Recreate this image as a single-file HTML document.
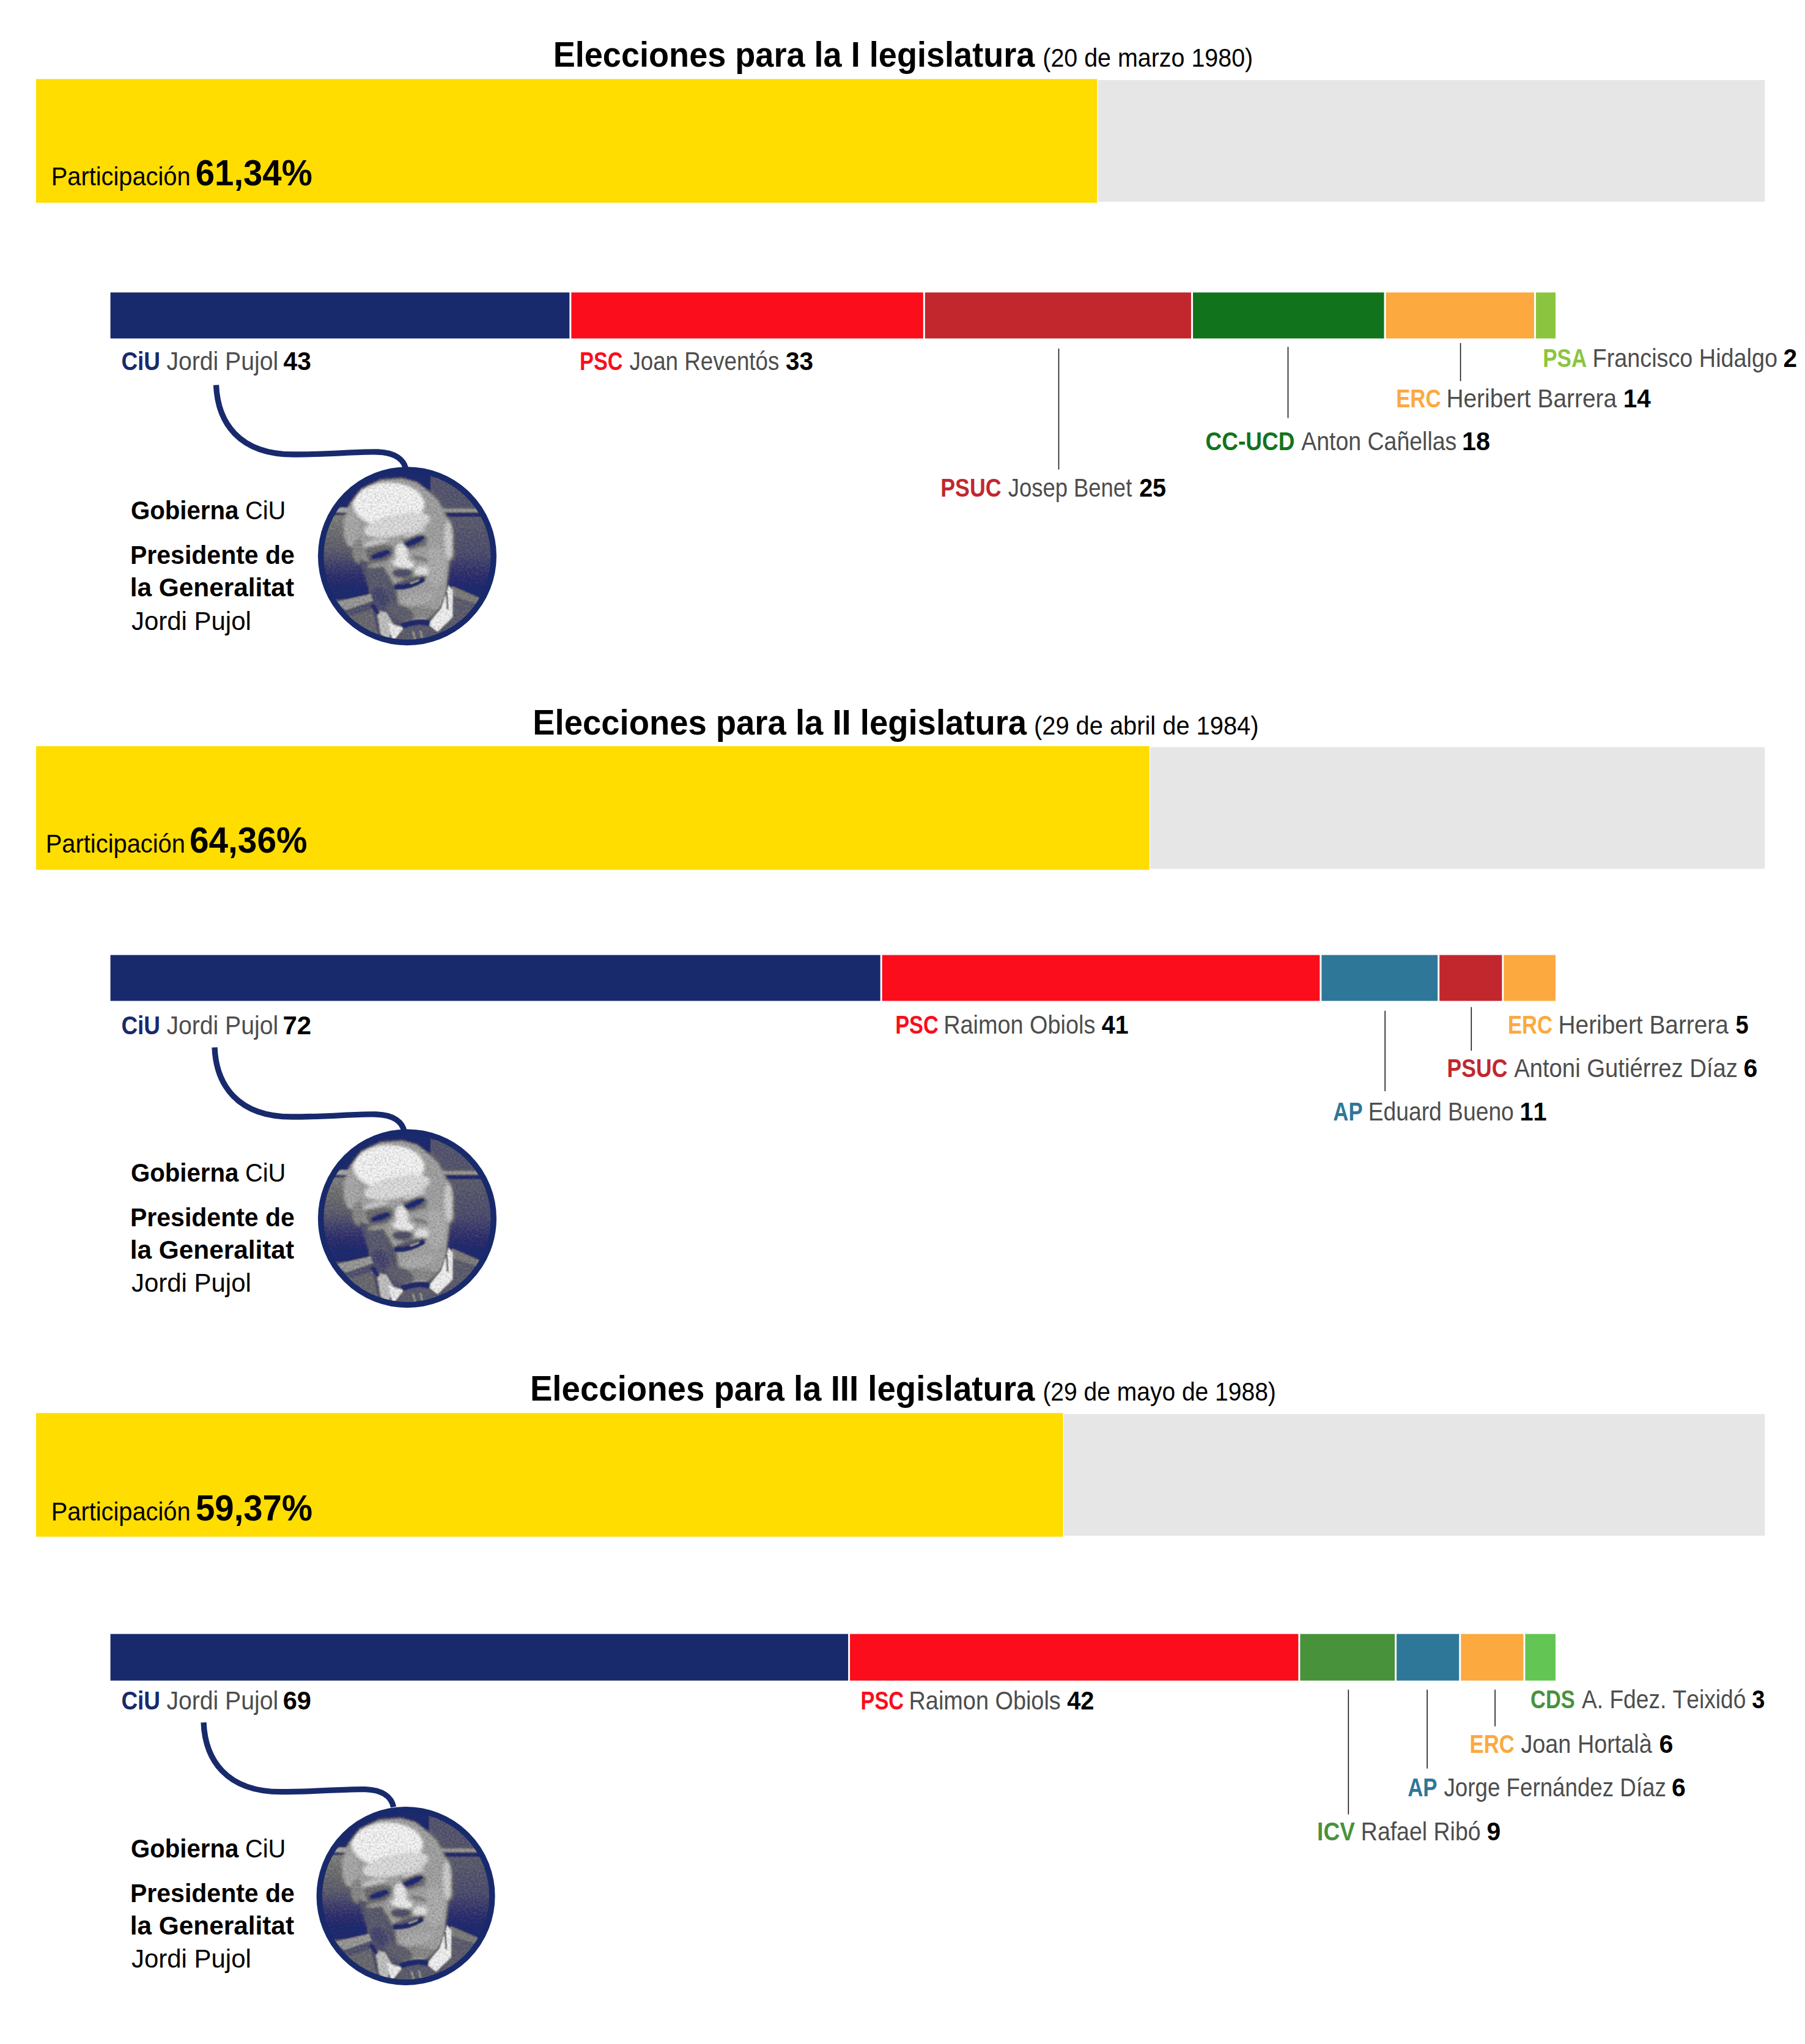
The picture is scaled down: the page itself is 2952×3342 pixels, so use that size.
<!DOCTYPE html>
<html lang="es"><head><meta charset="utf-8"><title>Elecciones al Parlament de Catalunya</title>
<style>
html,body{margin:0;padding:0;background:#fff}
svg{display:block}
text{font-family:"Liberation Sans",sans-serif;font-kerning:none}
</style></head><body>
<svg width="2952" height="3342" viewBox="0 0 2952 3342">
<defs>
<clipPath id="pc"><circle cx="0" cy="0" r="141"/></clipPath>
<filter id="b1" x="-10%" y="-10%" width="120%" height="120%"><feGaussianBlur stdDeviation="13"/></filter>
<filter id="b2" x="-10%" y="-10%" width="120%" height="120%"><feGaussianBlur stdDeviation="6"/></filter>
<filter id="gn" x="0" y="0" width="100%" height="100%"><feTurbulence type="fractalNoise" baseFrequency="0.05" numOctaves="2" seed="7" result="n"/><feColorMatrix in="n" type="matrix" values="0 0 0 0 0  0 0 0 0 0  0 0 0 0 0  1.6 0 0 0 -0.62"/></filter>
<filter id="gw" x="0" y="0" width="100%" height="100%"><feTurbulence type="fractalNoise" baseFrequency="0.055" numOctaves="2" seed="23" result="n"/><feColorMatrix in="n" type="matrix" values="0 0 0 0 1  0 0 0 0 1  0 0 0 0 1  0 1.6 0 0 -0.66"/></filter>
<filter id="duo" x="0" y="0" width="100%" height="100%" color-interpolation-filters="sRGB"><feComponentTransfer in="SourceGraphic" result="g"><feFuncR type="gamma" exponent="1.18"/><feFuncG type="gamma" exponent="1.18"/><feFuncB type="gamma" exponent="1.18"/></feComponentTransfer><feFlood flood-color="#1a2a6c" result="f"/><feBlend in="g" in2="f" mode="lighten"/></filter>
<linearGradient id="gL" x1="0" y1="0" x2="0" y2="1"><stop offset="0" stop-color="#909090"/><stop offset="0.45" stop-color="#6a6a6a"/><stop offset="0.7" stop-color="#3e3e3e"/><stop offset="0.9" stop-color="#202020"/></linearGradient>
<linearGradient id="gR" x1="0" y1="0" x2="0" y2="1"><stop offset="0" stop-color="#6c6c6c"/><stop offset="0.45" stop-color="#5a5a5a"/><stop offset="0.7" stop-color="#3a3a3a"/><stop offset="0.88" stop-color="#202020"/></linearGradient>
<g id="ph">
<g clip-path="url(#pc)">
<g filter="url(#duo)">
<g transform="scale(0.166204) translate(-902,-898)">
<rect x="0" y="0" width="1805" height="1805" fill="#5f5f5f"/>
<g filter="url(#b2)">
<rect x="0" y="0" width="1130" height="445" fill="#141414"/>
<rect x="1130" y="90" width="700" height="345" fill="#646464"/>
<rect x="0" y="470" width="520" height="850" fill="url(#gL)"/>
<rect x="100" y="418" width="230" height="50" fill="#b0b0b0"/>
<rect x="100" y="472" width="230" height="22" fill="#3a3a3a"/>
<rect x="1250" y="428" width="500" height="40" fill="#a0a0a0"/>
<rect x="1270" y="470" width="500" height="42" fill="#2b2b2b"/>
<rect x="1270" y="512" width="560" height="810" fill="url(#gR)"/>
<polygon points="1340,1190 1640,1320 1560,1650 1250,1805 1300,1400" fill="#6a6a6a"/>
<polygon points="1340,1190 1640,1320 1620,1380 1350,1290" fill="#8a8a8a"/>
<polygon points="190,1350 540,1270 620,1400 660,1805 330,1700" fill="#5f5f5f"/>
<polygon points="190,1350 545,1268 570,1335 300,1430" fill="#a5a5a5"/>
<polygon points="300,1500 560,1420 640,1805 420,1700" fill="#777"/>
</g>
<g filter="url(#b1)">
<path d="M270,560 L330,380 L450,230 L640,140 L850,125 L1000,165 L1110,250 L1210,350 L1280,480 L1320,560 L1345,700 L1365,900 L1320,960 L1305,1100 L1290,1260 L1230,1400 L1100,1520 L950,1570 L800,1510 L680,1400 L580,1250 L500,1100 L440,950 L370,800 L290,700 Z" fill="#adadad"/>
<ellipse cx="720" cy="390" rx="350" ry="215" fill="#f7f7f7"/>
<ellipse cx="800" cy="590" rx="330" ry="105" transform="rotate(-12 800 590)" fill="#e2e2e2"/>
<ellipse cx="350" cy="640" rx="75" ry="170" fill="#b4b4b4"/>
<ellipse cx="420" cy="850" rx="60" ry="120" fill="#969696"/>
<path d="M430,930 L560,960 L720,1080 L800,1250 L830,1520 L680,1410 L580,1260 L490,1100 Z" fill="#626262"/>
<ellipse cx="600" cy="1110" rx="110" ry="180" transform="rotate(-15 600 1110)" fill="#686868"/><ellipse cx="640" cy="1300" rx="70" ry="100" transform="rotate(-25 640 1300)" fill="#525252"/><ellipse cx="610" cy="985" rx="100" ry="24" transform="rotate(-8 610 985)" fill="#a8a8a8"/>
<ellipse cx="1180" cy="1000" rx="110" ry="200" fill="#b8b8b8"/>
<ellipse cx="1310" cy="740" rx="45" ry="190" fill="#d4d4d4"/>
<polygon points="490,820 600,775 760,795 765,880 700,950 570,975 495,915" fill="#7c7c7c"/>
<polygon points="855,735 1000,675 1100,710 1095,790 960,835 865,815" fill="#7c7c7c"/>
<ellipse cx="590" cy="765" rx="130" ry="28" transform="rotate(-14 590 765)" fill="#d0d0d0"/>
<ellipse cx="980" cy="665" rx="120" ry="24" transform="rotate(-24 980 665)" fill="#d5d5d5"/>
<ellipse cx="640" cy="885" rx="105" ry="34" transform="rotate(-17 640 885)" fill="#262626"/><ellipse cx="968" cy="755" rx="115" ry="34" transform="rotate(-26 968 755)" fill="#262626"/><ellipse cx="850" cy="880" rx="62" ry="110" transform="rotate(-8 850 880)" fill="#eee"/>
<ellipse cx="865" cy="970" rx="110" ry="48" transform="rotate(8 865 970)" fill="#efefef"/>
<ellipse cx="855" cy="1065" rx="100" ry="48" fill="#5b5b5b"/>
<path d="M965,912 Q1050,915 1105,945" fill="none" stroke="#777" stroke-width="26"/>
<ellipse cx="1045" cy="1045" rx="70" ry="52" fill="#e6e6e6"/>
<ellipse cx="930" cy="1150" rx="170" ry="40" transform="rotate(-17 930 1150)" fill="#646464"/>
<ellipse cx="1000" cy="1320" rx="175" ry="55" transform="rotate(-14 1000 1320)" fill="#b6b6b6"/>
<ellipse cx="1000" cy="1450" rx="180" ry="60" fill="#969696"/>
<ellipse cx="840" cy="1450" rx="140" ry="70" transform="rotate(25 840 1450)" fill="#6d6d6d"/>
</g>
<g filter="url(#b2)">
<path d="M565,905 Q640,890 715,852" fill="none" stroke="#101010" stroke-width="16"/>
<path d="M885,780 Q960,762 1060,712" fill="none" stroke="#101010" stroke-width="16"/>
<path d="M780,1200 Q905,1220 1065,1125" fill="none" stroke="#1c1c1c" stroke-width="42"/>
<path d="M930,1165 Q990,1150 1020,1130" fill="none" stroke="#c9c9c9" stroke-width="12"/>
<polygon points="1310,1180 1352,1235 1350,1500 1200,1645 1105,1565 1235,1410" fill="#f4f4f4"/>
<polygon points="600,1430 700,1450 770,1570 720,1720 640,1670" fill="#c9c9c9"/>
<polygon points="715,1555 870,1600 760,1745" fill="#f0f0f0"/>
<polygon points="870,1600 1105,1565 1190,1640 1000,1770 790,1735" fill="#6a6a6a"/>
<path d="M850,1590 Q980,1525 1125,1560" fill="none" stroke="#1c1c1c" stroke-width="50"/>
<path d="M555,1375 L620,1465" fill="none" stroke="#2a2a2a" stroke-width="36"/>
<path d="M1290,1250 L1300,1420" fill="none" stroke="#555" stroke-width="16"/>
<path d="M960,1640 L990,1760 M1030,1630 L1060,1740" fill="none" stroke="#b4b4b4" stroke-width="14"/>
</g>
<rect x="0" y="0" width="1805" height="1805" filter="url(#gn)" opacity="0.22"/>
<rect x="0" y="0" width="1805" height="1805" filter="url(#gw)" opacity="0.22"/>
</g>
</g>
</g>
<circle cx="0" cy="0" r="141.3" fill="none" stroke="#182a6c" stroke-width="9.4"/>
</g>

</defs>
<rect width="2952" height="3342" fill="#fff"/>
<text x="904.68" y="108.80" font-size="57.4" font-weight="700" fill="#000" textLength="787.67" lengthAdjust="spacingAndGlyphs">Elecciones para la I legislatura</text>
<text x="1705.26" y="108.80" font-size="42" fill="#000" textLength="343.99" lengthAdjust="spacingAndGlyphs">(20 de marzo 1980)</text>
<rect x="1795.67" y="130.90" width="1090.63" height="198.90" fill="#e6e6e6"/>
<rect x="59.00" y="129.30" width="1735.37" height="202.20" fill="#ffdd00"/>
<text x="83.74" y="302.70" font-size="42" fill="#000" textLength="227.85" lengthAdjust="spacingAndGlyphs">Participación</text>
<text x="319.74" y="302.70" font-size="60" font-weight="700" fill="#000" textLength="191.05" lengthAdjust="spacingAndGlyphs">61,34%</text>
<rect x="180.60" y="478.20" width="750.75" height="75.20" fill="#182a6c"/>
<rect x="934.35" y="478.20" width="575.46" height="75.20" fill="#fb0d1b"/>
<rect x="1512.80" y="478.20" width="435.23" height="75.20" fill="#c1272d"/>
<rect x="1951.03" y="478.20" width="312.52" height="75.20" fill="#11741c"/>
<rect x="2266.55" y="478.20" width="242.41" height="75.20" fill="#fca940"/>
<rect x="2511.96" y="478.20" width="32.06" height="75.20" fill="#8bc53f"/>
<text x="198.39" y="604.60" font-size="42.3" font-weight="700" fill="#182a6c" textLength="63.57" lengthAdjust="spacingAndGlyphs">CiU</text>
<text x="272.39" y="604.60" font-size="42.3" fill="#4d4d4d" textLength="182.73" lengthAdjust="spacingAndGlyphs">Jordi Pujol</text>
<text x="463.58" y="604.60" font-size="42.3" font-weight="700" fill="#000" textLength="45.29" lengthAdjust="spacingAndGlyphs">43</text>
<text x="948.11" y="604.80" font-size="42.3" font-weight="700" fill="#fb0d1b" textLength="70.32" lengthAdjust="spacingAndGlyphs">PSC</text>
<text x="1029.43" y="604.80" font-size="42.3" fill="#4d4d4d" textLength="244.90" lengthAdjust="spacingAndGlyphs">Joan Reventós</text>
<text x="1284.97" y="604.80" font-size="42.3" font-weight="700" fill="#000" textLength="44.99" lengthAdjust="spacingAndGlyphs">33</text>
<text x="1538.31" y="811.50" font-size="42.3" font-weight="700" fill="#c1272d" textLength="99.16" lengthAdjust="spacingAndGlyphs">PSUC</text>
<text x="1648.73" y="811.50" font-size="42.3" fill="#4d4d4d" textLength="202.54" lengthAdjust="spacingAndGlyphs">Josep Benet</text>
<text x="1863.13" y="811.50" font-size="42.3" font-weight="700" fill="#000" textLength="43.97" lengthAdjust="spacingAndGlyphs">25</text>
<text x="1971.58" y="736.30" font-size="42.3" font-weight="700" fill="#11741c" textLength="145.77" lengthAdjust="spacingAndGlyphs">CC-UCD</text>
<text x="2128.13" y="736.30" font-size="42.3" fill="#4d4d4d" textLength="254.23" lengthAdjust="spacingAndGlyphs">Anton Cañellas</text>
<text x="2390.89" y="736.30" font-size="42.3" font-weight="700" fill="#000" textLength="46.08" lengthAdjust="spacingAndGlyphs">18</text>
<text x="2283.17" y="665.70" font-size="42.3" font-weight="700" fill="#fca940" textLength="73.48" lengthAdjust="spacingAndGlyphs">ERC</text>
<text x="2365.41" y="665.70" font-size="42.3" fill="#4d4d4d" textLength="278.69" lengthAdjust="spacingAndGlyphs">Heribert Barrera</text>
<text x="2654.85" y="665.70" font-size="42.3" font-weight="700" fill="#000" textLength="44.96" lengthAdjust="spacingAndGlyphs">14</text>
<text x="2523.16" y="600.00" font-size="42.3" font-weight="700" fill="#8bc53f" textLength="72.07" lengthAdjust="spacingAndGlyphs">PSA</text>
<text x="2604.60" y="600.00" font-size="42.3" fill="#4d4d4d" textLength="302.39" lengthAdjust="spacingAndGlyphs">Francisco Hidalgo</text>
<text x="2916.40" y="600.00" font-size="42.3" font-weight="700" fill="#000" textLength="22.53" lengthAdjust="spacingAndGlyphs">2</text>
<rect x="1730.70" y="569.90" width="1.6" height="197.70" fill="#1a1a1a"/>
<rect x="2105.70" y="567.10" width="1.6" height="116.40" fill="#1a1a1a"/>
<rect x="2387.80" y="560.90" width="1.6" height="62.20" fill="#1a1a1a"/>
<path transform="translate(0,0)" d="M353.5 629.5 C356 690 390 743 480 743 C540 743 585 738 618 739 C647 740 661 752 664 768" fill="none" stroke="#182a6c" stroke-width="9.3"/>
<use href="#ph" x="666" y="909.3"/>
<text x="214.05" y="849.30" font-size="43.2" font-weight="700" fill="#000" textLength="176.29" lengthAdjust="spacingAndGlyphs">Gobierna</text>
<text x="400.98" y="849.30" font-size="43.2" fill="#000" textLength="66.40" lengthAdjust="spacingAndGlyphs">CiU</text>
<text x="212.96" y="921.80" font-size="43.2" font-weight="700" fill="#000" textLength="268.95" lengthAdjust="spacingAndGlyphs">Presidente de</text>
<text x="212.74" y="975.30" font-size="43.2" font-weight="700" fill="#000" textLength="268.27" lengthAdjust="spacingAndGlyphs">la Generalitat</text>
<text x="215.04" y="1029.60" font-size="43.2" fill="#000" textLength="195.76" lengthAdjust="spacingAndGlyphs">Jordi Pujol</text>
<text x="871.26" y="1200.80" font-size="57.4" font-weight="700" fill="#000" textLength="807.90" lengthAdjust="spacingAndGlyphs">Elecciones para la II legislatura</text>
<text x="1691.03" y="1200.80" font-size="42" fill="#000" textLength="367.44" lengthAdjust="spacingAndGlyphs">(29 de abril de 1984)</text>
<rect x="1881.11" y="1221.60" width="1005.19" height="198.90" fill="#e6e6e6"/>
<rect x="59.00" y="1220.00" width="1820.81" height="202.20" fill="#ffdd00"/>
<text x="74.73" y="1394.20" font-size="42" fill="#000" textLength="228.26" lengthAdjust="spacingAndGlyphs">Participación</text>
<text x="309.92" y="1394.20" font-size="60" font-weight="700" fill="#000" textLength="192.58" lengthAdjust="spacingAndGlyphs">64,36%</text>
<rect x="180.60" y="1561.50" width="1259.09" height="75.00" fill="#182a6c"/>
<rect x="1442.69" y="1561.50" width="715.69" height="75.00" fill="#fb0d1b"/>
<rect x="2161.38" y="1561.50" width="189.82" height="75.00" fill="#2e7799"/>
<rect x="2354.20" y="1561.50" width="102.17" height="75.00" fill="#c1272d"/>
<rect x="2459.37" y="1561.50" width="84.64" height="75.00" fill="#fca940"/>
<text x="198.39" y="1691.20" font-size="42.3" font-weight="700" fill="#182a6c" textLength="63.57" lengthAdjust="spacingAndGlyphs">CiU</text>
<text x="272.39" y="1691.20" font-size="42.3" fill="#4d4d4d" textLength="182.73" lengthAdjust="spacingAndGlyphs">Jordi Pujol</text>
<text x="462.40" y="1691.20" font-size="42.3" font-weight="700" fill="#000" textLength="46.68" lengthAdjust="spacingAndGlyphs">72</text>
<text x="1464.20" y="1690.40" font-size="42.3" font-weight="700" fill="#fb0d1b" textLength="70.64" lengthAdjust="spacingAndGlyphs">PSC</text>
<text x="1543.20" y="1690.40" font-size="42.3" fill="#4d4d4d" textLength="248.17" lengthAdjust="spacingAndGlyphs">Raimon Obiols</text>
<text x="1801.80" y="1690.40" font-size="42.3" font-weight="700" fill="#000" textLength="43.79" lengthAdjust="spacingAndGlyphs">41</text>
<text x="2465.89" y="1689.50" font-size="42.3" font-weight="700" fill="#fca940" textLength="73.06" lengthAdjust="spacingAndGlyphs">ERC</text>
<text x="2548.51" y="1689.50" font-size="42.3" fill="#4d4d4d" textLength="278.39" lengthAdjust="spacingAndGlyphs">Heribert Barrera</text>
<text x="2838.53" y="1689.50" font-size="42.3" font-weight="700" fill="#000" textLength="21.13" lengthAdjust="spacingAndGlyphs">5</text>
<text x="2366.62" y="1761.30" font-size="42.3" font-weight="700" fill="#c1272d" textLength="98.75" lengthAdjust="spacingAndGlyphs">PSUC</text>
<text x="2476.13" y="1761.30" font-size="42.3" fill="#4d4d4d" textLength="365.88" lengthAdjust="spacingAndGlyphs">Antoni Gutiérrez Díaz</text>
<text x="2851.40" y="1761.30" font-size="42.3" font-weight="700" fill="#000" textLength="22.78" lengthAdjust="spacingAndGlyphs">6</text>
<text x="2180.34" y="1832.10" font-size="42.3" font-weight="700" fill="#2e7799" textLength="48.25" lengthAdjust="spacingAndGlyphs">AP</text>
<text x="2237.64" y="1832.10" font-size="42.3" fill="#4d4d4d" textLength="238.22" lengthAdjust="spacingAndGlyphs">Eduard Bueno</text>
<text x="2485.50" y="1832.10" font-size="42.3" font-weight="700" fill="#000" textLength="44.21" lengthAdjust="spacingAndGlyphs">11</text>
<rect x="2264.40" y="1652.70" width="1.6" height="131.30" fill="#1a1a1a"/>
<rect x="2405.50" y="1646.60" width="1.6" height="71.30" fill="#1a1a1a"/>
<path transform="translate(-2.5,1083)" d="M353.5 629.5 C356 690 390 743 480 743 C540 743 585 738 618 739 C647 740 661 752 664 768" fill="none" stroke="#182a6c" stroke-width="9.3"/>
<use href="#ph" x="666" y="1992.3"/>
<text x="214.05" y="1932.00" font-size="43.2" font-weight="700" fill="#000" textLength="176.29" lengthAdjust="spacingAndGlyphs">Gobierna</text>
<text x="400.98" y="1932.00" font-size="43.2" fill="#000" textLength="66.40" lengthAdjust="spacingAndGlyphs">CiU</text>
<text x="212.96" y="2004.50" font-size="43.2" font-weight="700" fill="#000" textLength="268.95" lengthAdjust="spacingAndGlyphs">Presidente de</text>
<text x="212.74" y="2058.00" font-size="43.2" font-weight="700" fill="#000" textLength="268.27" lengthAdjust="spacingAndGlyphs">la Generalitat</text>
<text x="215.04" y="2112.30" font-size="43.2" fill="#000" textLength="195.76" lengthAdjust="spacingAndGlyphs">Jordi Pujol</text>
<text x="866.95" y="2290.10" font-size="57.4" font-weight="700" fill="#000" textLength="825.51" lengthAdjust="spacingAndGlyphs">Elecciones para la III legislatura</text>
<text x="1705.38" y="2290.10" font-size="42" fill="#000" textLength="381.44" lengthAdjust="spacingAndGlyphs">(29 de mayo de 1988)</text>
<rect x="1739.94" y="2312.00" width="1146.36" height="198.90" fill="#e6e6e6"/>
<rect x="59.00" y="2310.40" width="1679.64" height="202.20" fill="#ffdd00"/>
<text x="83.84" y="2486.30" font-size="42" fill="#000" textLength="227.75" lengthAdjust="spacingAndGlyphs">Participación</text>
<text x="320.07" y="2486.30" font-size="60" font-weight="700" fill="#000" textLength="190.92" lengthAdjust="spacingAndGlyphs">59,37%</text>
<rect x="180.60" y="2671.60" width="1206.50" height="76.20" fill="#182a6c"/>
<rect x="1390.10" y="2671.60" width="733.22" height="76.20" fill="#fb0d1b"/>
<rect x="2126.32" y="2671.60" width="154.76" height="76.20" fill="#48923c"/>
<rect x="2284.08" y="2671.60" width="102.17" height="76.20" fill="#2e7799"/>
<rect x="2389.25" y="2671.60" width="102.17" height="76.20" fill="#fca940"/>
<rect x="2494.43" y="2671.60" width="49.59" height="76.20" fill="#62c554"/>
<text x="198.39" y="2794.60" font-size="42.3" font-weight="700" fill="#182a6c" textLength="63.57" lengthAdjust="spacingAndGlyphs">CiU</text>
<text x="272.39" y="2794.60" font-size="42.3" fill="#4d4d4d" textLength="182.73" lengthAdjust="spacingAndGlyphs">Jordi Pujol</text>
<text x="462.68" y="2794.60" font-size="42.3" font-weight="700" fill="#000" textLength="46.27" lengthAdjust="spacingAndGlyphs">69</text>
<text x="1407.50" y="2795.10" font-size="42.3" font-weight="700" fill="#fb0d1b" textLength="70.64" lengthAdjust="spacingAndGlyphs">PSC</text>
<text x="1486.49" y="2795.10" font-size="42.3" fill="#4d4d4d" textLength="248.27" lengthAdjust="spacingAndGlyphs">Raimon Obiols</text>
<text x="1745.20" y="2795.10" font-size="42.3" font-weight="700" fill="#000" textLength="44.30" lengthAdjust="spacingAndGlyphs">42</text>
<text x="2503.09" y="2793.40" font-size="42.3" font-weight="700" fill="#48923c" textLength="72.66" lengthAdjust="spacingAndGlyphs">CDS</text>
<text x="2587.03" y="2793.40" font-size="42.3" fill="#4d4d4d" textLength="268.33" lengthAdjust="spacingAndGlyphs">A. Fdez. Teixidó</text>
<text x="2865.23" y="2793.40" font-size="42.3" font-weight="700" fill="#000" textLength="21.15" lengthAdjust="spacingAndGlyphs">3</text>
<text x="2403.59" y="2865.60" font-size="42.3" font-weight="700" fill="#fca940" textLength="73.06" lengthAdjust="spacingAndGlyphs">ERC</text>
<text x="2487.41" y="2865.60" font-size="42.3" fill="#4d4d4d" textLength="214.39" lengthAdjust="spacingAndGlyphs">Joan Hortalà</text>
<text x="2713.49" y="2865.60" font-size="42.3" font-weight="700" fill="#000" textLength="22.90" lengthAdjust="spacingAndGlyphs">6</text>
<text x="2302.14" y="2937.40" font-size="42.3" font-weight="700" fill="#2e7799" textLength="48.25" lengthAdjust="spacingAndGlyphs">AP</text>
<text x="2361.43" y="2937.40" font-size="42.3" fill="#4d4d4d" textLength="363.50" lengthAdjust="spacingAndGlyphs">Jorge Fernández Díaz</text>
<text x="2733.90" y="2937.40" font-size="42.3" font-weight="700" fill="#000" textLength="22.78" lengthAdjust="spacingAndGlyphs">6</text>
<text x="2154.12" y="3009.10" font-size="42.3" font-weight="700" fill="#48923c" textLength="61.73" lengthAdjust="spacingAndGlyphs">ICV</text>
<text x="2225.83" y="3009.10" font-size="42.3" fill="#4d4d4d" textLength="195.75" lengthAdjust="spacingAndGlyphs">Rafael Ribó</text>
<text x="2431.38" y="3009.10" font-size="42.3" font-weight="700" fill="#000" textLength="22.73" lengthAdjust="spacingAndGlyphs">9</text>
<rect x="2204.50" y="2762.70" width="1.6" height="203.90" fill="#1a1a1a"/>
<rect x="2333.30" y="2762.70" width="1.6" height="128.90" fill="#1a1a1a"/>
<rect x="2444.30" y="2762.70" width="1.6" height="60.00" fill="#1a1a1a"/>
<path transform="translate(-20.5,2186.7)" d="M353.5 629.5 C356 690 390 743 480 743 C540 743 585 738 618 739 C647 740 661 752 664 768" fill="none" stroke="#182a6c" stroke-width="9.3"/>
<use href="#ph" x="663.6" y="3100.1"/>
<text x="214.05" y="3037.00" font-size="43.2" font-weight="700" fill="#000" textLength="176.29" lengthAdjust="spacingAndGlyphs">Gobierna</text>
<text x="400.98" y="3037.00" font-size="43.2" fill="#000" textLength="66.40" lengthAdjust="spacingAndGlyphs">CiU</text>
<text x="212.96" y="3109.50" font-size="43.2" font-weight="700" fill="#000" textLength="268.95" lengthAdjust="spacingAndGlyphs">Presidente de</text>
<text x="212.74" y="3163.00" font-size="43.2" font-weight="700" fill="#000" textLength="268.27" lengthAdjust="spacingAndGlyphs">la Generalitat</text>
<text x="215.04" y="3217.30" font-size="43.2" fill="#000" textLength="195.76" lengthAdjust="spacingAndGlyphs">Jordi Pujol</text>
</svg>
</body></html>
